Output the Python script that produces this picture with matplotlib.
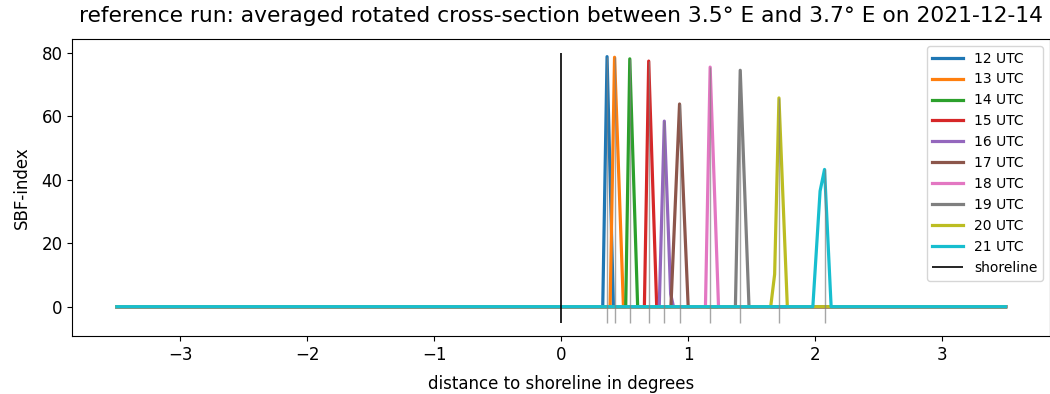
import matplotlib
matplotlib.use("Agg")
import matplotlib.pyplot as plt
import numpy as np

hours = ["12 UTC", "13 UTC", "14 UTC", "15 UTC", "16 UTC",
         "17 UTC", "18 UTC", "19 UTC", "20 UTC", "21 UTC"]

# distance (degrees) / SBF-index points per hour (zero elsewhere)
x12 = [-3.5, 0.327, 0.361, 0.411, 3.5]
y12 = [0, 0, 78.7, 0, 0]
x13 = [-3.5, 0.385, 0.420, 0.490, 3.5]
y13 = [0, 0, 78.5, 0, 0]
x14 = [-3.5, 0.508, 0.540, 0.602, 3.5]
y14 = [0, 0, 78.0, 0, 0]
x15 = [-3.5, 0.655, 0.689, 0.752, 3.5]
y15 = [0, 0, 77.3, 0, 0]
x16 = [-3.5, 0.772, 0.812, 0.862, 0.884, 3.5]
y16 = [0, 0, 58.4, 4.0, 0, 0]
x17 = [-3.5, 0.864, 0.932, 1.000, 3.5]
y17 = [0, 0, 63.8, 0, 0]
x18 = [-3.5, 1.136, 1.173, 1.239, 3.5]
y18 = [0, 0, 75.4, 0, 0]
x19 = [-3.5, 1.372, 1.410, 1.479, 3.5]
y19 = [0, 0, 74.4, 0, 0]
x20 = [-3.5, 1.650, 1.681, 1.715, 1.781, 3.5]
y20 = [0, 0, 10.2, 65.7, 0, 0]
x21 = [-3.5, 1.982, 2.039, 2.074, 2.126, 3.5]
y21 = [0, 0, 36.4, 43.2, 0, 0]

xs = [x12, x13, x14, x15, x16, x17, x18, x19, x20, x21]
ys = [y12, y13, y14, y15, y16, y17, y18, y19, y20, y21]

# peak locations and maxima (marked by thin grey lines)
peak_x = [0.361, 0.420, 0.540, 0.689, 0.812, 0.932, 1.173, 1.410, 1.715, 2.074]
peak_y = [78.7, 78.5, 78.0, 77.3, 58.4, 63.8, 75.4, 74.4, 65.7, 43.2]

colors = plt.rcParams['axes.prop_cycle'].by_key()['color']

fig = plt.figure(figsize=(10.5, 3.94), dpi=100)
ax = fig.add_axes([0.069, 0.147, 0.931, 0.754])

for i, h in enumerate(hours):
    ax.plot(xs[i], ys[i], color=colors[i % len(colors)], lw=2.3, label=h)
ax.vlines(0, -5, 80, color='black', lw=1.2, label='shoreline')
ax.vlines(peak_x, -5, peak_y, color='grey', lw=1, alpha=0.7)

ax.set_title("reference run: averaged rotated cross-section between 3.5° E and 3.7° E on 2021-12-14",
             fontsize=15.7, pad=12)
ax.set_xlabel("distance to shoreline in degrees", fontsize=12, labelpad=8)
ax.set_ylabel("SBF-index", fontsize=12, labelpad=8)
ax.tick_params(labelsize=12)
ax.legend(loc='upper right', fontsize=10, labelspacing=0.5, handlelength=2.2)

fig.savefig("out.png", dpi=100)
